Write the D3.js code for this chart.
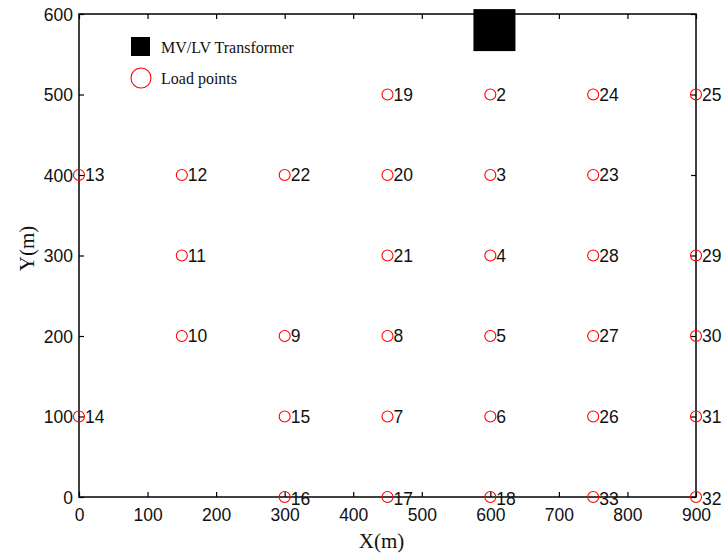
<!DOCTYPE html>
<html>
<head>
<meta charset="utf-8">
<script src="https://cdn.jsdelivr.net/npm/d3@7"></script>
<style>
  body { margin: 0; background: #fff; }
  svg { display: block; }
</style>
</head>
<body>
<div id="chart"></div>
<script>
// load points: id, x, y (metres)
var pointIds = [19, 2, 24, 25, 13, 12, 22, 20, 3, 23, 11, 21, 4, 28, 29, 10, 9, 8, 5, 27, 30, 14, 15, 7, 6, 26, 31, 16, 17, 18, 33, 32]
var pointX   = [450, 600, 750, 900, 0, 150, 300, 450, 600, 750, 150, 450, 600, 750, 900, 150, 300, 450, 600, 750, 900, 0, 300, 450, 600, 750, 900, 300, 450, 600, 750, 900]
var pointY   = [500, 500, 500, 500, 400, 400, 400, 400, 400, 400, 300, 300, 300, 300, 300, 200, 200, 200, 200, 200, 200, 100, 100, 100, 100, 100, 100, 0, 0, 0, 0, 0]

// transformer location
var transformerX = [606]
var transformerY = [580]

var xTicks = [0, 100, 200, 300, 400, 500, 600, 700, 800, 900]
var yTicks = [0, 100, 200, 300, 400, 500, 600]

var legendLabels = ["MV/LV Transformer", "Load points"]

var margin = {top: 14, right: 28, bottom: 58, left: 79},
    width = 724 - margin.left - margin.right,
    height = 555 - margin.top - margin.bottom

var svg = d3.select("#chart")
    .append("svg")
    .attr("width", 724)
    .attr("height", 555)
    .append("g")
    .attr("transform", "translate(" + margin.left + "," + margin.top + ")")

var x = d3.scaleLinear().domain([0, 900]).range([0, width])
var y = d3.scaleLinear().domain([0, 600]).range([height, 0])

var tickFont = "Arial, 'Liberation Sans', sans-serif"
var serifFont = "'Times New Roman', 'Liberation Serif', serif"

// axes, MATLAB style with inward ticks on all four sides
function styleAxis(g) {
    g.select(".domain").remove()
    g.selectAll("line").attr("stroke", "#000").attr("stroke-width", 1.2)
    g.selectAll("text").attr("font-family", tickFont).attr("font-size", "17.5px").attr("fill", "#111")
}

svg.append("g")
    .attr("transform", "translate(0," + height + ")")
    .call(d3.axisBottom(x).tickValues(xTicks).tickSize(-5).tickPadding(12))
    .call(styleAxis)

svg.append("g")
    .call(d3.axisLeft(y).tickValues(yTicks).tickSize(-5).tickPadding(6))
    .call(styleAxis)
    .selectAll("text").attr("dy", "0.35em")

svg.append("g")
    .call(d3.axisTop(x).tickValues(xTicks).tickSize(-5).tickFormat(""))
    .call(styleAxis)

svg.append("g")
    .attr("transform", "translate(" + width + ",0)")
    .call(d3.axisRight(y).tickValues(yTicks).tickSize(-5).tickFormat(""))
    .call(styleAxis)

// frame
svg.append("rect")
    .attr("x", 0)
    .attr("y", 0)
    .attr("width", width)
    .attr("height", height)
    .attr("fill", "none")
    .attr("stroke", "#000")
    .attr("stroke-width", 1.5)

// transformer
var sq = 42
svg.selectAll(".transformer")
    .data(transformerX)
    .enter()
    .append("rect")
    .attr("class", "transformer")
    .attr("x", function (d) { return x(d) - sq / 2 })
    .attr("y", function (d, i) { return y(transformerY[i]) - sq / 2 })
    .attr("width", sq)
    .attr("height", sq)
    .attr("fill", "#000")

// load points
var pts = pointIds.map(function (id, i) { return {id: id, x: pointX[i], y: pointY[i]} })

svg.selectAll(".pt")
    .data(pts)
    .enter()
    .append("circle")
    .attr("class", "pt")
    .attr("cx", function (d) { return x(d.x) })
    .attr("cy", function (d) { return y(d.y) })
    .attr("r", 5.5)
    .attr("fill", "none")
    .attr("stroke", "#ff0000")
    .attr("stroke-width", 1.1)

svg.selectAll(".ptlabel")
    .data(pts)
    .enter()
    .append("text")
    .attr("class", "ptlabel")
    .attr("x", function (d) { return x(d.x) + 6 })
    .attr("y", function (d) { return y(d.y) + (d.y == 0 ? 2 : 0) })
    .attr("dy", "0.36em")
    .attr("font-family", tickFont)
    .attr("font-size", "17.5px")
    .attr("fill", "#111")
    .text(function (d) { return d.id })

// legend
var legend = svg.append("g").attr("transform", "translate(52,23)")
legend.append("rect")
    .attr("x", 0).attr("y", 0)
    .attr("width", 19).attr("height", 19)
    .attr("fill", "#000")
legend.append("circle")
    .attr("cx", 10).attr("cy", 41)
    .attr("r", 10)
    .attr("fill", "none")
    .attr("stroke", "#ff0000")
    .attr("stroke-width", 1.1)
legend.selectAll("text")
    .data(legendLabels)
    .enter()
    .append("text")
    .attr("x", 30)
    .attr("y", function (d, i) { return 10 + i * 31 })
    .attr("dy", "0.35em")
    .attr("font-family", serifFont)
    .attr("font-size", "16px")
    .attr("fill", "#111")
    .text(function (d) { return d })

// axis titles
svg.append("text")
    .attr("x", width / 2 - 6)
    .attr("y", height + 51)
    .attr("text-anchor", "middle")
    .attr("font-family", serifFont)
    .attr("font-size", "21px")
    .attr("fill", "#111")
    .text("X(m)")

svg.append("text")
    .attr("transform", "translate(" + (-45) + "," + (height / 2 - 7) + ") rotate(-90)")
    .attr("text-anchor", "middle")
    .attr("font-family", serifFont)
    .attr("font-size", "21px")
    .attr("fill", "#111")
    .text("Y(m)")
</script>
</body>
</html>
